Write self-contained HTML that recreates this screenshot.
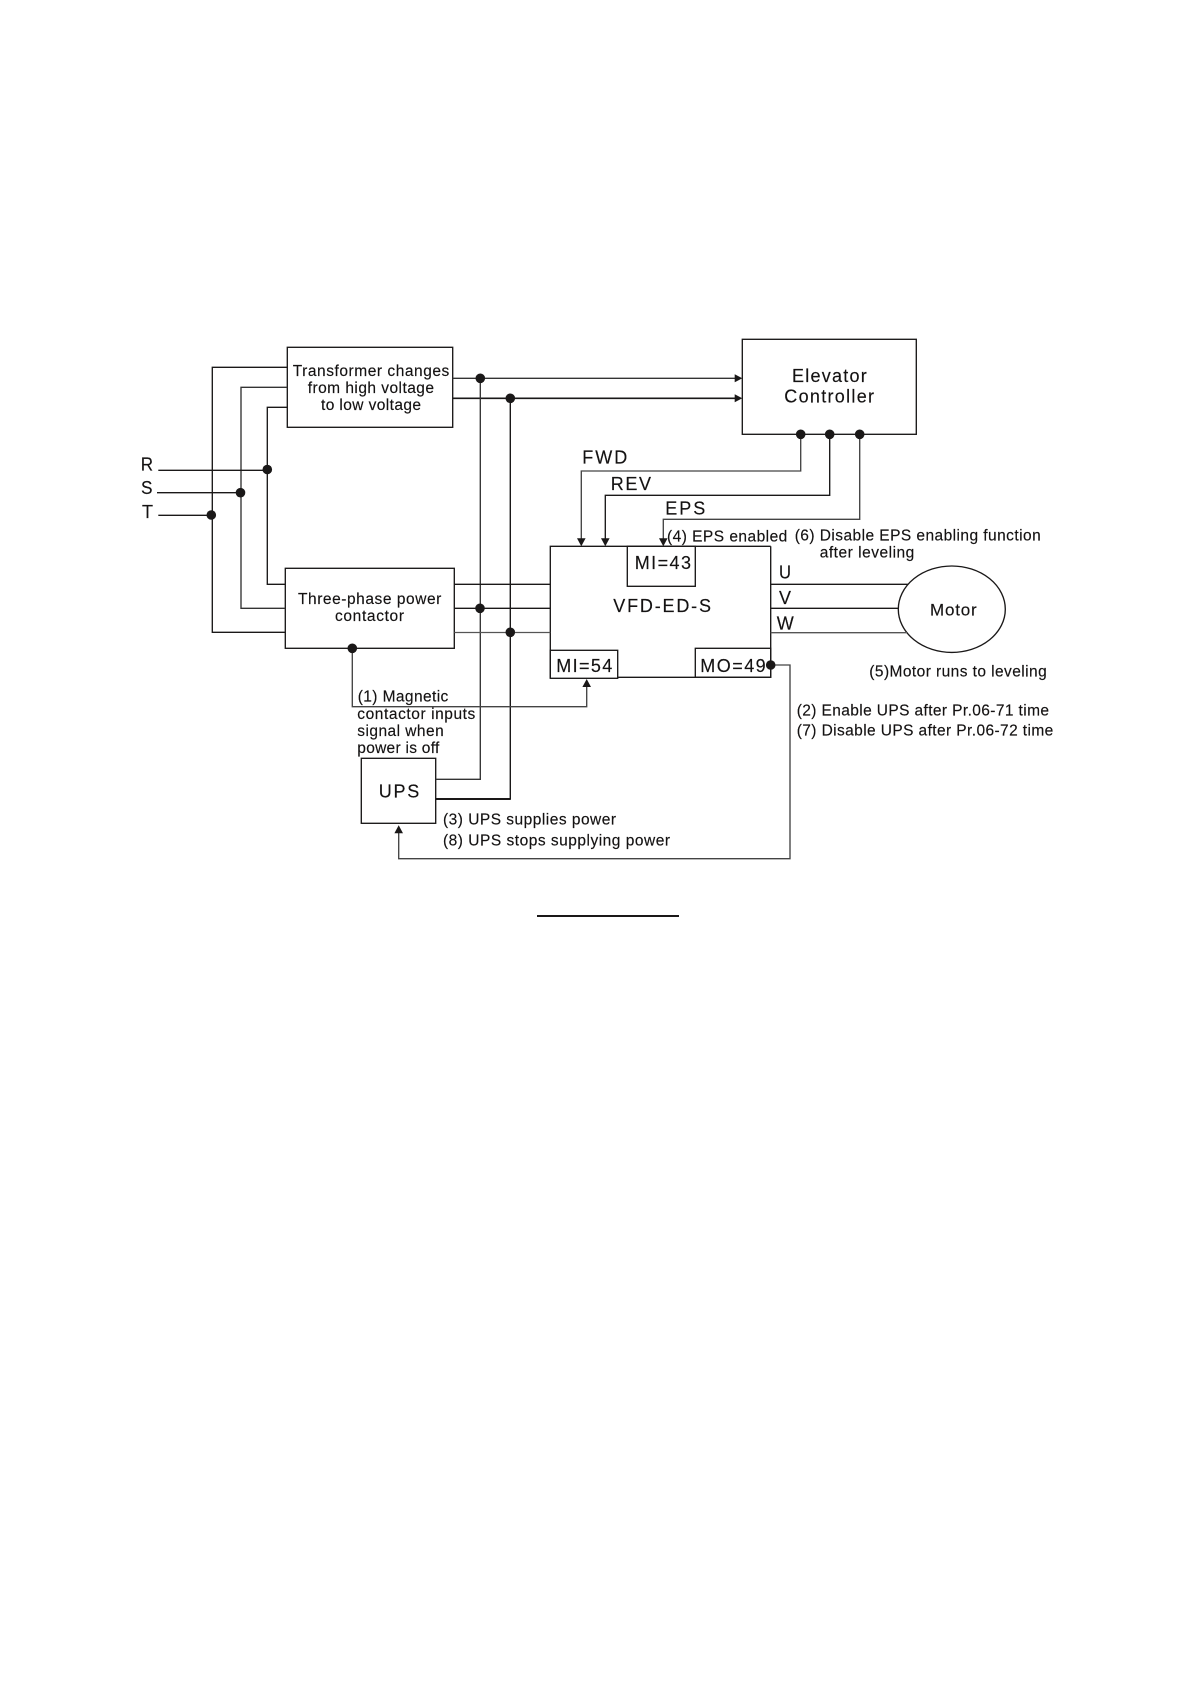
<!DOCTYPE html>
<html>
<head>
<meta charset="utf-8">
<style>
html,body{margin:0;padding:0;background:#fff;width:1191px;height:1684px;overflow:hidden}
svg{display:block}
text{font-family:"Liberation Sans",sans-serif;fill:#141212;font-size:15.5px;stroke:#141212;stroke-width:.15px}
.b{font-size:18px}
</style>
</head>
<body>
<svg width="1191" height="1684" viewBox="0 0 1191 1684" xmlns="http://www.w3.org/2000/svg">
<rect width="1191" height="1684" fill="#fff"/>
<g fill="none" stroke="#1a1818" stroke-width="1.35">
<rect x="287.3" y="347.3" width="165.4" height="80"/>
<rect x="285.3" y="568.3" width="169" height="80"/>
<rect x="742.3" y="339.3" width="174" height="95"/>
<rect x="361.3" y="758.3" width="74.4" height="65"/>
<path d="M770.7 546.3H550.3V678.3"/>
<path d="M770.7 546.3V677.3H617.7"/>
<rect x="550.3" y="650.3" width="67.4" height="28"/>
<rect x="695.3" y="648.3" width="75.4" height="29"/>
<rect x="627.3" y="546.3" width="68" height="40"/>
<ellipse cx="951.8" cy="609.2" rx="53.5" ry="43.2"/>
<path d="M287.3 367.3H212.3V632.3H285.3"/>
<path d="M287.3 387.3H241V608.3H285.3" stroke="#333"/>
<path d="M287.3 407.3H267.3V584.3H285.3"/>
<path d="M158.3 470.3H267.3"/>
<path d="M157 492.7H240.5"/>
<path d="M158.3 515.3H211.3"/>
<path d="M452.7 378.3H736" stroke="#333"/>
<path d="M452.7 398.3H736" stroke-width="1.6"/>
<path d="M480.3 378.3V779.3H435.7" stroke="#333"/>
<path d="M510.3 398.3V799H435.7" stroke-width="1.4"/>
<path d="M435.7 799H510.3" stroke-width="2"/>
<path d="M454.3 584.3H550.3"/>
<path d="M454.3 608.3H550.3"/>
<path d="M454.3 632.5H550.3" stroke="#555"/>
<path d="M770.7 584.3H908"/>
<path d="M770.7 608.3H898.3"/>
<path d="M770.7 632.7H907" stroke="#555"/>
<path d="M800.7 434.3V471H581.3V539" stroke="#444"/>
<path d="M829.7 434.3V495.3H605.3V539"/>
<path d="M859.7 434.3V519.3H663.3V539" stroke="#444"/>
<path d="M352.3 648.3V706.7H586.7V686" stroke="#444"/>
<path d="M770.7 665H790V858.7H398.7V832" stroke="#444"/>
</g>
<g fill="#1a1818">
<path d="M742.3 378.3L734.7 374.3V382.3Z"/>
<path d="M742.3 398.3L734.7 394.3V402.3Z"/>
<path d="M581.3 546.3L577 538.3H585.6Z"/>
<path d="M605.3 546.3L601 538.3H609.6Z"/>
<path d="M663.3 546.3L659 538.3H667.6Z"/>
<path d="M586.7 679L582.4 687H591Z"/>
<path d="M398.7 825.3L394.4 833.3H403Z"/>
<circle cx="267.3" cy="469.5" r="4.8"/>
<circle cx="240.5" cy="492.7" r="4.8"/>
<circle cx="211.3" cy="515" r="4.8"/>
<circle cx="480.3" cy="378.3" r="4.8"/>
<circle cx="510.3" cy="398.3" r="4.8"/>
<circle cx="480" cy="608.3" r="4.8"/>
<circle cx="510.3" cy="632.3" r="4.8"/>
<circle cx="352.3" cy="648.3" r="4.8"/>
<circle cx="800.7" cy="434.3" r="4.8"/>
<circle cx="829.7" cy="434.3" r="4.8"/>
<circle cx="859.7" cy="434.3" r="4.8"/>
<circle cx="770.7" cy="665" r="4.8"/>
<rect x="537" y="915" width="142" height="2"/>
</g>
<text class="b" x="140.7" y="470.5" textLength="12.3" lengthAdjust="spacingAndGlyphs">R</text>
<text class="b" x="141" y="494" textLength="11.5" lengthAdjust="spacingAndGlyphs">S</text>
<text class="b" x="142" y="518" textLength="11" lengthAdjust="spacingAndGlyphs">T</text>
<text x="292.7" y="376" textLength="156.6">Transformer changes</text>
<text x="307.7" y="393" textLength="126.3">from high voltage</text>
<text x="321" y="410" textLength="100">to low voltage</text>
<text x="298" y="604" textLength="143.3">Three-phase power</text>
<text x="335" y="621" textLength="69">contactor</text>
<text class="b" x="792" y="382" textLength="74.7">Elevator</text>
<text class="b" x="784.3" y="402.3" textLength="89.7">Controller</text>
<text class="b" x="582.3" y="463.7" textLength="45">FWD</text>
<text class="b" x="610.7" y="490" textLength="40.3">REV</text>
<text class="b" x="665.3" y="514.3" textLength="40">EPS</text>
<text x="667" y="541.3" textLength="120.3">(4) EPS enabled</text>
<text x="794.7" y="540.3" textLength="246">(6) Disable EPS enabling function</text>
<text x="819.7" y="557.7" textLength="94.6">after leveling</text>
<text class="b" x="634.7" y="569" textLength="56.3">MI=43</text>
<text class="b" x="613.3" y="612" textLength="97.7">VFD-ED-S</text>
<text class="b" x="779" y="578.3" textLength="12" lengthAdjust="spacingAndGlyphs">U</text>
<text class="b" x="779" y="604" textLength="12" lengthAdjust="spacingAndGlyphs">V</text>
<text class="b" x="776.7" y="629.3" textLength="17" lengthAdjust="spacingAndGlyphs">W</text>
<text x="930" y="615.3" style="font-size:17px" textLength="46.7">Motor</text>
<text class="b" x="556.3" y="672" textLength="56">MI=54</text>
<text class="b" x="700.3" y="672" textLength="65.4">MO=49</text>
<text x="869.3" y="676.7" textLength="177.4">(5)Motor runs to leveling</text>
<text x="796.7" y="715.3" textLength="252.3">(2) Enable UPS after Pr.06-71 time</text>
<text x="796.7" y="735.7" textLength="256.6">(7) Disable UPS after Pr.06-72 time</text>
<text x="357.7" y="701.7" textLength="90.6">(1) Magnetic</text>
<text x="357.3" y="719" textLength="118">contactor inputs</text>
<text x="357.3" y="736" textLength="86.4">signal when</text>
<text x="357.3" y="753" textLength="82">power is off</text>
<text class="b" x="378.7" y="797.7" textLength="40.6">UPS</text>
<text x="443" y="824.3" textLength="173">(3) UPS supplies power</text>
<text x="443" y="845.3" textLength="227">(8) UPS stops supplying power</text>
</svg>
</body>
</html>
